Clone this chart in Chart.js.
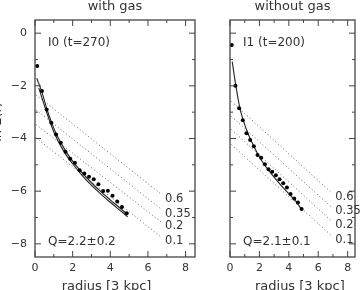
<!DOCTYPE html>
<html>
<head>
<meta charset="utf-8">
<script src="https://cdn.jsdelivr.net/npm/chart.js@4.4.1/dist/chart.umd.min.js"></script>
<style>
  html, body { margin: 0; padding: 0; background: #fff; }
  #wrap { position: relative; width: 360px; height: 290px; overflow: hidden; }
  canvas { position: absolute; top: 0; }
</style>
</head>
<body>
<div id="wrap">
  <canvas id="left" width="200" height="290" style="left:0px"></canvas>
  <canvas id="right" width="175" height="290" style="left:185px"></canvas>
</div>
<script>
// radius sample points (units of 3 kpc)
const radius = [0.12, 0.37, 0.62, 0.87, 1.12, 1.37, 1.62, 1.87, 2.12, 2.37,
                2.62, 2.87, 3.12, 3.37, 3.62, 3.87, 4.12, 4.37, 4.62, 4.87];

// measured profiles
const withGas = [-1.25, -2.2, -2.9, -3.4, -3.85, -4.16, -4.5, -4.77, -4.92, -5.21,
                 -5.33, -5.45, -5.55, -5.74, -5.99, -5.98, -6.17, -6.39, -6.6, -6.84];
const withoutGas = [-0.45, -2.0, -2.85, -3.31, -3.8, -4.06, -4.29, -4.63, -4.73, -4.98,
                    -5.17, -5.26, -5.4, -5.55, -5.7, -5.86, -6.11, -6.28, -6.43, -6.68];

// model curves
const fitAX = [0.09, 0.35, 0.62, 0.85, 1.1, 1.36, 1.6, 2.0, 2.5, 3.0, 3.5, 4.0, 4.5, 4.87];
const fitAY = [-1.71, -2.2, -2.86, -3.33, -3.78, -4.14, -4.44, -4.86, -5.3, -5.68, -6.02, -6.33, -6.63, -6.86];
const fitBX = [0.2, 0.5, 1.0, 1.5, 2.0, 2.5, 3.0, 3.5, 4.0, 4.5, 4.92];
const fitBY = [-2.08, -2.75, -3.75, -4.45, -4.96, -5.4, -5.78, -6.11, -6.42, -6.72, -6.97];
const fitCX = [0.15, 0.4, 0.67, 0.9, 1.2, 1.5, 2.0, 2.5, 3.0, 3.5, 4.0, 4.5, 4.87];
const fitCY = [-1.08, -2.0, -2.85, -3.3, -3.78, -4.15, -4.7, -5.12, -5.47, -5.8, -6.1, -6.4, -6.7];

// reference slopes (dotted)
const refLabels = ['0.6', '0.35', '0.2', '0.1'];
const refLeftX = [0.05, 6.7];
const refLeftStart = [-2.34, -2.91, -3.47, -3.97];
const refLeftEnd = [-6.11, -6.68, -7.17, -7.74];
const refRightX = [0.1, 6.88];
const refRightStart = [-2.59, -3.16, -3.66, -4.23];
const refRightEnd = [-6.05, -6.6, -7.12, -7.68];

const xTicks = [0, 2, 4, 6, 8];
const yTicks = [-8, -6, -4, -2, 0];

Chart.defaults.font.family = 'DejaVu Sans';
Chart.defaults.color = '#333';

function pairs(xs, ys) {
  return xs.map((x, i) => ({ x: x, y: ys[i] }));
}

function makeDatasets(vals, fits, refX, refStart, refEnd) {
  const sets = [{
    data: pairs(radius, vals),
    showLine: false,
    pointRadius: 2,
    pointBackgroundColor: '#000',
    pointBorderWidth: 0
  }];
  fits.forEach(f => sets.push({
    data: pairs(f[0], f[1]),
    showLine: true,
    pointRadius: 0,
    borderColor: '#222',
    borderWidth: 1.1,
    cubicInterpolationMode: 'monotone'
  }));
  refStart.forEach((s, i) => sets.push({
    data: pairs(refX, [s, refEnd[i]]),
    showLine: true,
    pointRadius: 0,
    borderColor: '#666',
    borderWidth: 1,
    borderDash: [1, 2.5]
  }));
  return sets;
}

function framePlugin(info) {
  return {
    id: 'frame',
    afterDraw(chart) {
      const ctx = chart.ctx;
      const a = chart.chartArea;
      const xs = chart.scales.x, ys = chart.scales.y;
      ctx.save();
      ctx.strokeStyle = '#444';
      ctx.lineWidth = 1.3;
      ctx.strokeRect(a.left, a.top, a.right - a.left, a.bottom - a.top);
      ctx.lineWidth = 1;
      ctx.beginPath();
      for (let v = 0; v <= 8; v++) {
        const p = xs.getPixelForValue(v);
        const len = v % 2 === 0 ? 6 : 3;
        ctx.moveTo(p, a.bottom); ctx.lineTo(p, a.bottom - len);
        ctx.moveTo(p, a.top); ctx.lineTo(p, a.top + len);
      }
      for (let v = -8; v <= 0; v++) {
        const p = ys.getPixelForValue(v);
        const len = v % 2 === 0 ? 6 : 3;
        ctx.moveTo(a.left, p); ctx.lineTo(a.left + len, p);
        ctx.moveTo(a.right, p); ctx.lineTo(a.right - len, p);
      }
      ctx.stroke();

      ctx.fillStyle = '#333';
      ctx.textBaseline = 'middle';
      ctx.textAlign = 'center';
      ctx.font = '13px DejaVu Sans';
      ctx.fillText(info.title, (a.left + a.right) / 2, 7);
      ctx.fillText('radius [3 kpc]', xs.getPixelForValue(info.xTitleAt), 287);

      ctx.textAlign = 'left';
      ctx.font = '12px DejaVu Sans';
      ctx.fillText(info.run, a.left + 13, 43);
      ctx.fillText(info.q, a.left + 13, 242);

      ctx.font = '11.5px DejaVu Sans';
      info.refEnd.forEach((y, i) => {
        const px = xs.getPixelForValue(info.refX[1]) + 4;
        const py = ys.getPixelForValue(y) + 4.5;
        ctx.fillText(refLabels[i], px, py);
      });

      if (info.yTitle) {
        ctx.translate(-2, 122);
        ctx.rotate(-Math.PI / 2);
        ctx.textAlign = 'center';
        ctx.font = '13px DejaVu Sans';
        ctx.fillText('ln Σ(r)', 0, 0);
      }
      ctx.restore();
    }
  };
}

function makeChart(id, vals, fits, refX, refStart, refEnd, info, leftSide) {
  const ctx = document.getElementById(id).getContext('2d');
  info.refX = refX;
  info.refEnd = refEnd;
  return new Chart(ctx, {
    type: 'scatter',
    data: { datasets: makeDatasets(vals, fits, refX, refStart, refEnd) },
    options: {
      responsive: false,
      animation: false,
      layout: { padding: { top: 20, right: 5, bottom: 0, left: leftSide ? 0 : 10 } },
      plugins: { legend: { display: false }, tooltip: { enabled: false } },
      scales: {
        x: {
          type: 'linear', min: 0, max: 8.5,
          grid: { display: false, drawTicks: false },
          border: { display: false },
          ticks: { padding: 5, font: { size: 11 }, color: '#333' },
          afterBuildTicks: s => { s.ticks = xTicks.map(v => ({ value: v })); },
          afterFit: s => { s.height = 33; }
        },
        y: {
          type: 'linear', min: -8.5, max: 0.5,
          display: leftSide,
          grid: { display: false, drawTicks: false },
          border: { display: false },
          ticks: {
            padding: 8, font: { size: 11 }, color: '#333',
            callback: v => String(v).replace('-', '\u2212')
          },
          afterBuildTicks: s => { s.ticks = yTicks.map(v => ({ value: v })); },
          afterFit: s => { s.width = 35; }
        }
      }
    },
    plugins: [framePlugin(info)]
  });
}

makeChart('left', withGas, [[fitAX, fitAY], [fitBX, fitBY]], refLeftX, refLeftStart, refLeftEnd,
  { title: 'with gas', run: 'I0 (t=270)', q: 'Q=2.2±0.2', xTitleAt: 3.8, yTitle: true }, true);
makeChart('right', withoutGas, [[fitCX, fitCY]], refRightX, refRightStart, refRightEnd,
  { title: 'without gas', run: 'I1 (t=200)', q: 'Q=2.1±0.1', xTitleAt: 4.75, yTitle: false }, false);
</script>
</body>
</html>
